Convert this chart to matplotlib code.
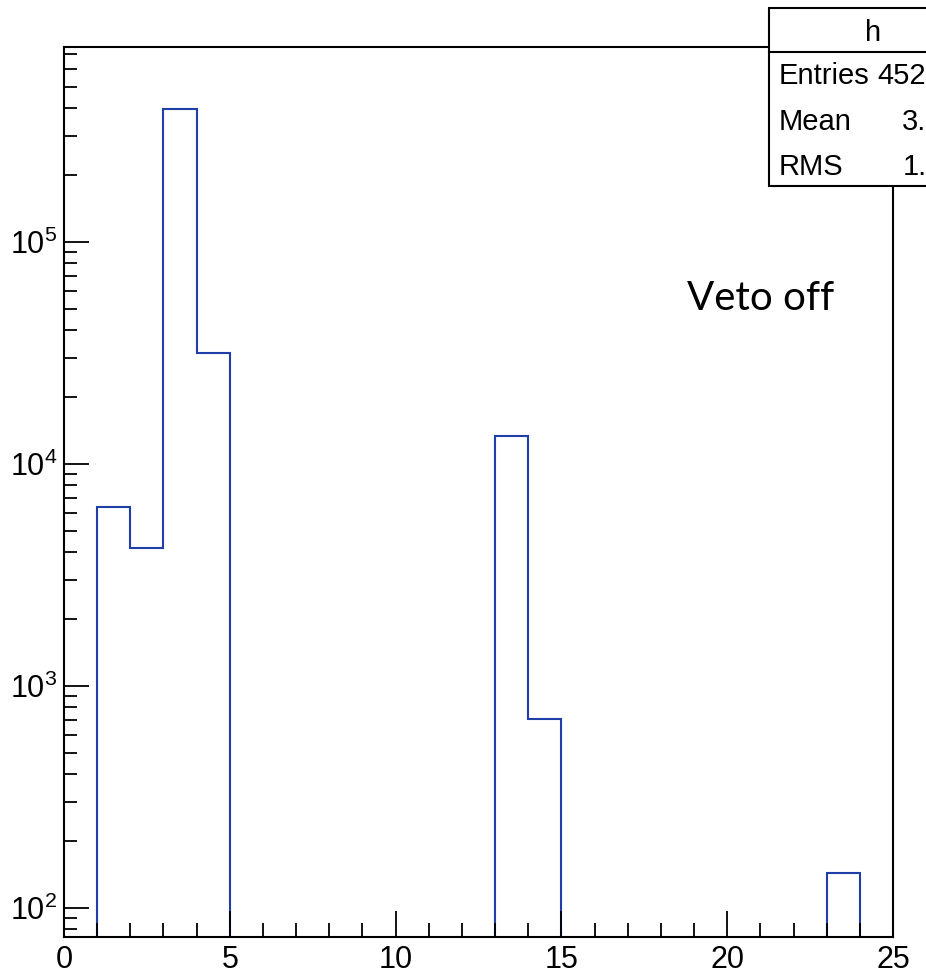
import numpy as np
import matplotlib
matplotlib.use("Agg")
import matplotlib.pyplot as plt
from matplotlib import font_manager
from matplotlib.patches import Rectangle
from matplotlib.ticker import LogLocator, LogFormatterSciNotation, MultipleLocator

# histogram contents, bins of width 1 from 0 to 25
edges = np.arange(0, 26)
counts = np.zeros(25)
filled_bins = [1, 2, 3, 4, 13, 14, 23]
filled_counts = [6400, 4200, 396000, 31500, 13400, 710, 143]
counts[filled_bins] = filled_counts

hist_name = "h"
note = "Veto off"

installed = {f.name for f in font_manager.fontManager.ttflist}
root_font = "Liberation Sans Narrow" if "Liberation Sans Narrow" in installed else "Liberation Sans"
plt.rcParams['font.family'] = [root_font, 'DejaVu Sans']
plt.rcParams['mathtext.fontset'] = 'custom'
plt.rcParams['mathtext.rm'] = root_font
plt.rcParams['mathtext.default'] = 'regular'

fig = plt.figure(figsize=(9.26, 9.77), dpi=100)
ax = fig.add_axes([64/926, 40/977, (893-64)/926, (937-47)/977])

draw = np.where(counts > 0, counts, 1e-2)
ax.stairs(draw, edges, baseline=1e-2, color='#1f3fa8', linewidth=1.5)

ax.set_yscale('log')
ax.set_xlim(0, 25)
ax.set_ylim(74, 7.55e5)

ax.xaxis.set_major_locator(MultipleLocator(5))
ax.xaxis.set_minor_locator(MultipleLocator(1))
ax.yaxis.set_major_locator(LogLocator(base=10))
ax.yaxis.set_minor_locator(LogLocator(base=10, subs=np.arange(2, 10)))
ax.yaxis.set_major_formatter(LogFormatterSciNotation())
ax.tick_params(which='both', direction='in', top=False, right=False, width=1.3, color='black')
ax.tick_params(axis='y', which='major', length=18, labelsize=22, pad=5)
ax.tick_params(axis='y', which='minor', length=9.5)
ax.tick_params(axis='x', which='major', length=19, labelsize=22, pad=6)
ax.tick_params(axis='x', which='minor', length=10)
for s in ax.spines.values():
    s.set_linewidth(1.5)

ax.text(687/926, (977-310)/977, note, transform=fig.transFigure, fontsize=29,
        family=['Lato', 'DejaVu Sans'], ha='left', va='baseline')

# stats box (runs off the right edge like the original)
centers = edges[:-1] + 0.5
n = counts.sum()
mean = (counts * centers).sum() / n
rms = np.sqrt((counts * (centers - mean) ** 2).sum() / n)

bx0, by0, by1, bsep = 769/926, (977-186)/977, (977-8)/977, (977-52)/977
fig.add_artist(Rectangle((bx0, by0), 0.3, by1 - by0, transform=fig.transFigure,
                         facecolor='white', edgecolor='black', linewidth=1.5, zorder=5))
fig.add_artist(plt.Line2D([bx0, 1.2], [bsep, bsep], transform=fig.transFigure,
                          color='black', linewidth=1.5, zorder=6))
fig.text(873/926, (977-33)/977, hist_name, fontsize=21, ha='center', va='center', zorder=7)
rows = [("Entries", "%d" % n), ("Mean", "%.3f" % mean), ("RMS", "%.3f" % rms)]
for i, (lab, val) in enumerate(rows):
    y = (977 - (76 + 45.5 * i)) / 977
    fig.text(779/926, y, lab, fontsize=21, ha='left', va='center', zorder=7)
    fig.text(975/926, y, val, fontsize=21, ha='right', va='center', zorder=7)

fig.savefig("out.png", dpi=100)
